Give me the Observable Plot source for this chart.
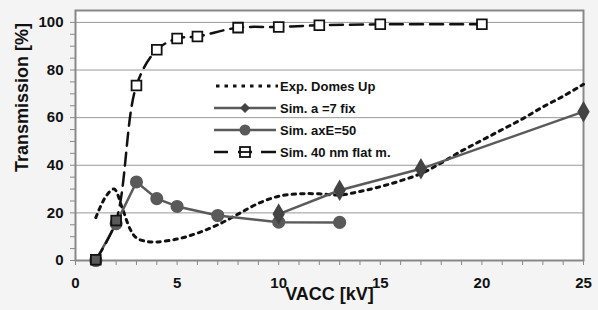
<!DOCTYPE html>
<html>
<head>
<meta charset="utf-8">
<script src="https://cdn.jsdelivr.net/npm/d3@7"></script>
<script src="https://cdn.jsdelivr.net/npm/@observablehq/plot@0.6"></script>
<style>
  html, body { margin: 0; padding: 0; background: #f4f4f4; }
  #wrap { position: relative; width: 598px; height: 310px; font-family: "Liberation Sans", Arial, sans-serif; }
  #legend { position: absolute; left: 214px; top: 75px; font-weight: bold; font-size: 13px; color: #111; }
  #legend .row { display: flex; align-items: center; height: 22px; }
  #legend svg { display: block; margin-right: 2px; }
</style>
</head>
<body>
<div id="wrap"></div>
<script>
// ---- data ----
const expX = [1, 1.5, 1.9, 2.3, 2.7, 3, 3.5, 4, 5, 6, 7, 8, 9, 10, 11, 12, 13, 14, 15, 16, 17, 18, 19, 20, 21, 22, 23, 24, 25];
const expY = [18, 27, 30, 22, 13, 9.5, 8, 7.8, 9, 11.5, 15, 19.5, 24, 27, 28, 28, 27.5, 29, 31, 33.5, 36.5, 41, 46, 50.5, 55, 59.5, 64.5, 69, 74];

const diaX = [10, 13, 17, 25];
const diaY = [19.5, 29.5, 38.5, 62.5];

const cirX = [1, 2, 3, 4, 5, 7, 10, 13];
const cirY = [0, 15.5, 33, 26, 22.7, 18.9, 16.1, 16];

const sqX = [1, 2, 3, 4, 5, 6, 8, 10, 12, 15, 20];
const sqY = [0.3, 16.8, 73.5, 88.5, 93.2, 94.1, 97.8, 98.1, 98.8, 99.2, 99.2];

const seriesNames = ["Exp. Domes Up", "Sim. a =7 fix", "Sim. axE=50", "Sim. 40 nm flat m."];
const xTicks = d3.range(0, 26, 1);
const yTicks = d3.range(0, 101, 5);
const yGrid = [20, 40, 60, 80, 100];

const exp = expX.map((x, i) => ({x, y: expY[i]}));
const dia = diaX.map((x, i) => ({x, y: diaY[i]}));
const cir = cirX.map((x, i) => ({x, y: cirY[i]}));
const sq = sqX.map((x, i) => ({x, y: sqY[i]}));

const gray = "#5a5a5a";
const font = "Liberation Sans, Arial, sans-serif";

const chart = Plot.plot({
  width: 598,
  height: 310,
  marginLeft: 75,
  marginRight: 15,
  marginTop: 10,
  marginBottom: 50,
  style: { background: "transparent", fontFamily: font },
  x: { domain: [0, 25] },
  y: { domain: [0, 105] },
  marks: [
    Plot.frame({ fill: "white", stroke: null }),
    Plot.gridY(yGrid, { stroke: "#999", strokeOpacity: 1, strokeWidth: 1 }),
    Plot.axisX({ ticks: xTicks, tickSize: 5, tickPadding: 12, stroke: "#888",
      tickFormat: d => d % 5 === 0 ? d : "", fontSize: 15, fontWeight: "bold", fill: "#111", label: null }),
    Plot.axisY({ ticks: yTicks, tickSize: 5, tickPadding: 7, stroke: "#888",
      tickFormat: d => d % 20 === 0 ? d : "", fontSize: 15, fontWeight: "bold", fill: "#111", label: null }),
    Plot.frame({ stroke: "#888", strokeWidth: 2 }),
    Plot.text(["Transmission [%]"], { frameAnchor: "left", textAnchor: "middle", rotate: -90, dx: -53, dy: -38, fontSize: 18, fontWeight: "bold", fill: "#111" }),
    Plot.text(["VACC [kV]"], { frameAnchor: "bottom", dy: 39, fontSize: 18, fontWeight: "bold", fill: "#111" }),
    // Exp dotted
    Plot.line(exp, { x: "x", y: "y", curve: "catmull-rom", stroke: "#111", strokeWidth: 3, strokeDasharray: "3.5,5" }),
    // circle series
    Plot.line(cir, { x: "x", y: "y", stroke: gray, strokeWidth: 2.5 }),
    Plot.dot(cir, { x: "x", y: "y", r: 5.8, fill: gray, stroke: gray }),
    // diamond series
    Plot.line(dia, { x: "x", y: "y", stroke: gray, strokeWidth: 2.5 }),
    Plot.dot(dia, { x: "x", y: "y", symbol: "diamond", r: 5.6, fill: "#444", stroke: "#444" }),
    // dashed squares
    Plot.line(sq, { x: "x", y: "y", curve: "catmull-rom", stroke: "#111", strokeWidth: 2.5, strokeDasharray: "13,7" }),
    Plot.dot(sq, { x: "x", y: "y", symbol: "square", r: 5.5, fill: (d, i) => i < 2 ? gray : "white", stroke: "#111", strokeWidth: 1.8 })
  ]
});

const wrap = document.getElementById("wrap");
wrap.appendChild(chart);

// legend (HTML overlay)
const legend = document.createElement("div");
legend.id = "legend";
const samples = [
  `<line x1="2" y1="8" x2="64" y2="8" stroke="#111" stroke-width="3" stroke-dasharray="3.5,5"/>`,
  `<line x1="0" y1="8" x2="62" y2="8" stroke="${gray}" stroke-width="2.5"/><path d="M31,3 L36,8 L31,13 L26,8 Z" fill="#444"/>`,
  `<line x1="0" y1="8" x2="62" y2="8" stroke="${gray}" stroke-width="2.5"/><circle cx="31" cy="8" r="5.5" fill="${gray}"/>`,
  `<line x1="0" y1="8" x2="14" y2="8" stroke="#111" stroke-width="2.5"/><line x1="47" y1="8" x2="62" y2="8" stroke="#111" stroke-width="2.5"/><line x1="24" y1="8" x2="38" y2="8" stroke="#111" stroke-width="2.5"/><rect x="26" y="3" width="10" height="10" fill="white" stroke="#111" stroke-width="1.8"/><line x1="26" y1="8" x2="36" y2="8" stroke="#111" stroke-width="1.8"/>`
];
seriesNames.forEach((name, i) => {
  const row = document.createElement("div");
  row.className = "row";
  row.innerHTML = `<svg width="64" height="16">${samples[i]}</svg><span>${name}</span>`;
  legend.appendChild(row);
});
wrap.appendChild(legend);
</script>
</body>
</html>
